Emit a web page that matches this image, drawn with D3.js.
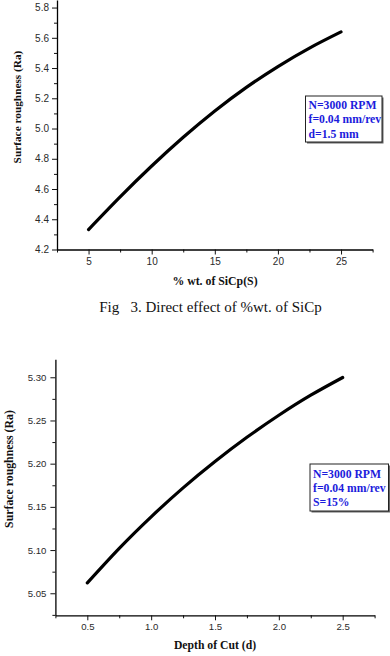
<!DOCTYPE html>
<html><head><meta charset="utf-8">
<script src="https://cdn.jsdelivr.net/npm/d3@7"></script>
<style>
html,body{margin:0;padding:0;background:#fff;}
svg{display:block;}
.tick text{font-family:"Liberation Sans",Arial,sans-serif;fill:#2a2a2a;}
</style></head>
<body>
<svg id="c" width="390" height="656"></svg>
<script>
// ---- data ----
const sicpS = [5, 7.5, 10, 12.5, 15, 17.5, 20, 22.5, 25];
const raSicp = [4.332, 4.548, 4.752, 4.942, 5.116, 5.272, 5.410, 5.532, 5.639];
const depthD = [0.5, 0.75, 1.0, 1.25, 1.5, 1.75, 2.0, 2.25, 2.5];
const raDepth = [5.062, 5.102, 5.1385, 5.172, 5.2025, 5.2305, 5.256, 5.2792, 5.2997];

const xTicks1 = [5, 10, 15, 20, 25];
const yTicks1 = [4.2, 4.4, 4.6, 4.8, 5.0, 5.2, 5.4, 5.6, 5.8];
const xMinor1 = [2.5, 7.5, 12.5, 17.5, 22.5, 27.5];
const yMinor1 = [4.3, 4.5, 4.7, 4.9, 5.1, 5.3, 5.5, 5.7];

const xTicks2 = [0.5, 1.0, 1.5, 2.0, 2.5];
const yTicks2 = [5.05, 5.10, 5.15, 5.20, 5.25, 5.30];
const xMinor2 = [0.25, 0.75, 1.25, 1.75, 2.25, 2.75];
const yMinor2 = [5.025, 5.075, 5.125, 5.175, 5.225, 5.275];

const legend1 = ["N=3000 RPM", "f=0.04 mm/rev", "d=1.5 mm"];
const legend2 = ["N=3000 RPM", "f=0.04 mm/rev", "S=15%"];

const svg = d3.select("#c");

function panel(o) {
  const g = svg.append("g");
  const x = d3.scaleLinear().domain(o.xDom).range(o.xRange);
  const y = d3.scaleLinear().domain(o.yDom).range(o.yRange);

  // minor ticks
  const gxm = g.append("g").attr("transform", `translate(0,${o.yRange[0]})`)
    .call(d3.axisBottom(x).tickValues(o.xMinor).tickSize(3).tickSizeOuter(0).tickFormat(""));
  const gym = g.append("g").attr("transform", `translate(${o.xRange[0]},0)`)
    .call(d3.axisLeft(y).tickValues(o.yMinor).tickSize(3).tickSizeOuter(0).tickFormat(""));
  [gxm, gym].forEach(a => { a.select(".domain").remove(); a.selectAll("line").attr("stroke", "#111").attr("stroke-width", 1); });

  const gx = g.append("g").attr("transform", `translate(0,${o.yRange[0]})`)
    .call(d3.axisBottom(x).tickValues(o.xTicks).tickSize(5).tickSizeOuter(0).tickPadding(3).tickFormat(d3.format(o.xFmt)));
  const gy = g.append("g").attr("transform", `translate(${o.xRange[0]},0)`)
    .call(d3.axisLeft(y).tickValues(o.yTicks).tickSize(5).tickSizeOuter(0).tickPadding(o.yPad).tickFormat(d3.format(o.yFmt)));
  [gx, gy].forEach(a => {
    a.select(".domain").attr("stroke", "#000").attr("stroke-width", 1.3);
    a.selectAll("line").attr("stroke", "#111").attr("stroke-width", 1);
    a.selectAll("text").attr("font-size", o.tickFont);
  });

  // curve
  g.append("path").datum(o.xs.map((v, i) => [v, o.ys[i]]))
    .attr("fill", "none").attr("stroke", "#000").attr("stroke-width", 3.2)
    .attr("stroke-linecap", "round")
    .attr("d", d3.line().x(d => x(d[0])).y(d => y(d[1])).curve(d3.curveNatural));

  // axis titles
  g.append("text").attr("x", o.xTitlePos[0]).attr("y", o.xTitlePos[1])
    .attr("text-anchor", "middle").attr("font-family", "'Liberation Serif','Times New Roman',serif")
    .attr("font-weight", "bold").attr("font-size", o.titleFont).attr("fill", "#111").text(o.xTitle);
  g.append("text").attr("transform", `translate(${o.yTitlePos[0]},${o.yTitlePos[1]}) rotate(-90)`)
    .attr("text-anchor", "middle").attr("font-family", "'Liberation Serif','Times New Roman',serif")
    .attr("font-weight", "bold").attr("font-size", o.yTitleFont).attr("fill", "#111").text(o.yTitle);

  // legend box
  const b = o.box;
  g.append("rect").attr("x", b[0] + 1.5).attr("y", b[1] + 1.5).attr("width", b[2]).attr("height", b[3])
    .attr("fill", "#666");
  g.append("rect").attr("x", b[0]).attr("y", b[1]).attr("width", b[2]).attr("height", b[3])
    .attr("fill", "#fff").attr("stroke", "#222").attr("stroke-width", 1);
  g.selectAll(null).data(o.legend).enter().append("text")
    .attr("x", b[0] + 3).attr("y", (d, i) => o.legBase + i * o.legStep)
    .attr("font-family", "'Liberation Serif','Times New Roman',serif").attr("font-weight", "bold")
    .attr("font-size", 11.7).attr("fill", "#1c1cdc").text(d => d);
}

panel({
  xDom: [2.5, 27.5], xRange: [57, 372.6],
  yDom: [4.2, 5.85], yRange: [249.5, 0],
  xTicks: xTicks1, yTicks: yTicks1, xMinor: xMinor1, yMinor: yMinor1,
  xFmt: "d", yFmt: ".1f", yPad: 3, tickFont: 10,
  xs: sicpS, ys: raSicp,
  xTitle: "% wt. of SiCp(S)", xTitlePos: [215, 284.5], titleFont: 11.8,
  yTitle: "Surface roughness (Ra)", yTitlePos: [21, 107], yTitleFont: 11.3,
  box: [305.5, 96, 76.5, 46], legend: legend1, legBase: 109.3, legStep: 14.1
});

panel({
  xDom: [0.25, 2.75], xRange: [55.4, 374.6],
  yDom: [5.0245, 5.3208], yRange: [615.3, 359.3],
  xTicks: xTicks2, yTicks: yTicks2, xMinor: xMinor2, yMinor: yMinor2,
  xFmt: ".1f", yFmt: ".2f", yPad: 4, tickFont: 9.6,
  xs: depthD, ys: raDepth,
  xTitle: "Depth of Cut (d)", xTitlePos: [215, 649.3], titleFont: 11.7,
  yTitle: "Surface roughness (Ra)", yTitlePos: [12.5, 469], yTitleFont: 11.8,
  box: [310, 464, 78.5, 47], legend: legend2, legBase: 477.8, legStep: 14.2
});

// caption
svg.append("text").attr("x", 210.5).attr("y", 312).attr("text-anchor", "middle")
  .attr("font-family", "'Liberation Serif','Times New Roman',serif").attr("font-size", 15)
  .attr("fill", "#111").style("white-space", "pre").text("Fig   3. Direct effect of %wt. of SiCp");
</script>
</body></html>
